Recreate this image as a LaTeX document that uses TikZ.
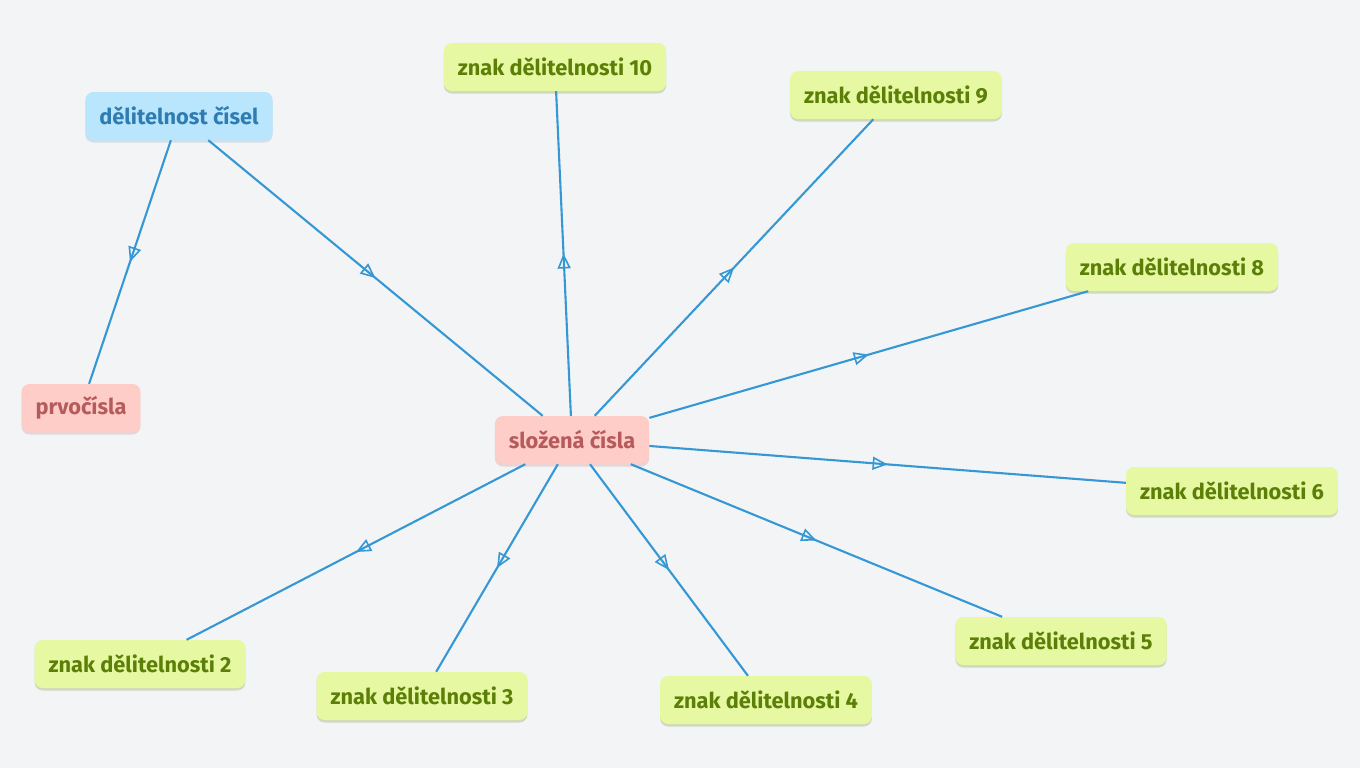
\documentclass[tikz,border=0pt]{standalone}
\usepackage{fontspec}
\setmainfont{Fira Sans}
\usetikzlibrary{arrows.meta,decorations.markings,shadows}

\definecolor{bgcol}{HTML}{F2F4F6}
\definecolor{linkcol}{HTML}{3597D4}
\definecolor{signfill}{HTML}{E6F8A2}
\definecolor{signtext}{HTML}{5C7F08}
\definecolor{topfill}{HTML}{B9E6FD}
\definecolor{toptext}{HTML}{2E7CB1}
\definecolor{numfill}{HTML}{FFCDC8}
\definecolor{numtext}{HTML}{B65B5B}

\begin{document}
\begin{tikzpicture}[x=1pt,y=-1pt,
  box/.style={rounded corners=8pt,minimum height=48pt,inner xsep=14pt,
    font=\fontsize{21.8}{26}\selectfont\bfseries},
  sign/.style={box,fill=signfill,text=signtext,
    drop shadow={shadow xshift=0pt,shadow yshift=-2.5pt,opacity=.4,fill=signtext!60}},
  topic/.style={box,fill=topfill,text=toptext,
    drop shadow={shadow xshift=0pt,shadow yshift=-2.5pt,opacity=.3,fill=toptext!60}},
  numbers/.style={box,fill=numfill,text=numtext,
    drop shadow={shadow xshift=0pt,shadow yshift=-2.5pt,opacity=.35,fill=numtext!60}},
  link/.style={draw=linkcol,line width=2.1pt,postaction={decorate},
    decoration={markings,mark=at position 0.5 with
      {\arrow[linkcol,line width=1.6pt]{Triangle[open,length=15pt,width=13pt]}}}}]

 \useasboundingbox[fill=bgcol] (0,0) rectangle (1360,768);

 % Topic and kinds of numbers
 \node[topic] (del) at (179,116) {dělitelnost čísel};
 \node[numbers] (prv) at (81,408) {prvočísla};
 \node[numbers] (slo) at (572,440) {složená čísla};

 % Divisibility signs
 \node[sign] (z10) at (555,67) {znak dělitelnosti 10};
 \node[sign] (z9) at (896,95) {znak dělitelnosti 9};
 \node[sign] (z8) at (1172,267) {znak dělitelnosti 8};
 \node[sign] (z6) at (1232,491) {znak dělitelnosti 6};
 \node[sign] (z5) at (1061,641) {znak dělitelnosti 5};
 \node[sign] (z4) at (766,700) {znak dělitelnosti 4};
 \node[sign] (z3) at (422,696) {znak dělitelnosti 3};
 \node[sign] (z2) at (140,664) {znak dělitelnosti 2};

 % Links
 \draw[link] (del) -- (prv);
 \draw[link] (del) -- (slo);
 \foreach \z in {z10,z9,z8,z6,z5,z4,z3,z2}
  \draw[link] (slo) -- (\z);
\end{tikzpicture}
\end{document}
